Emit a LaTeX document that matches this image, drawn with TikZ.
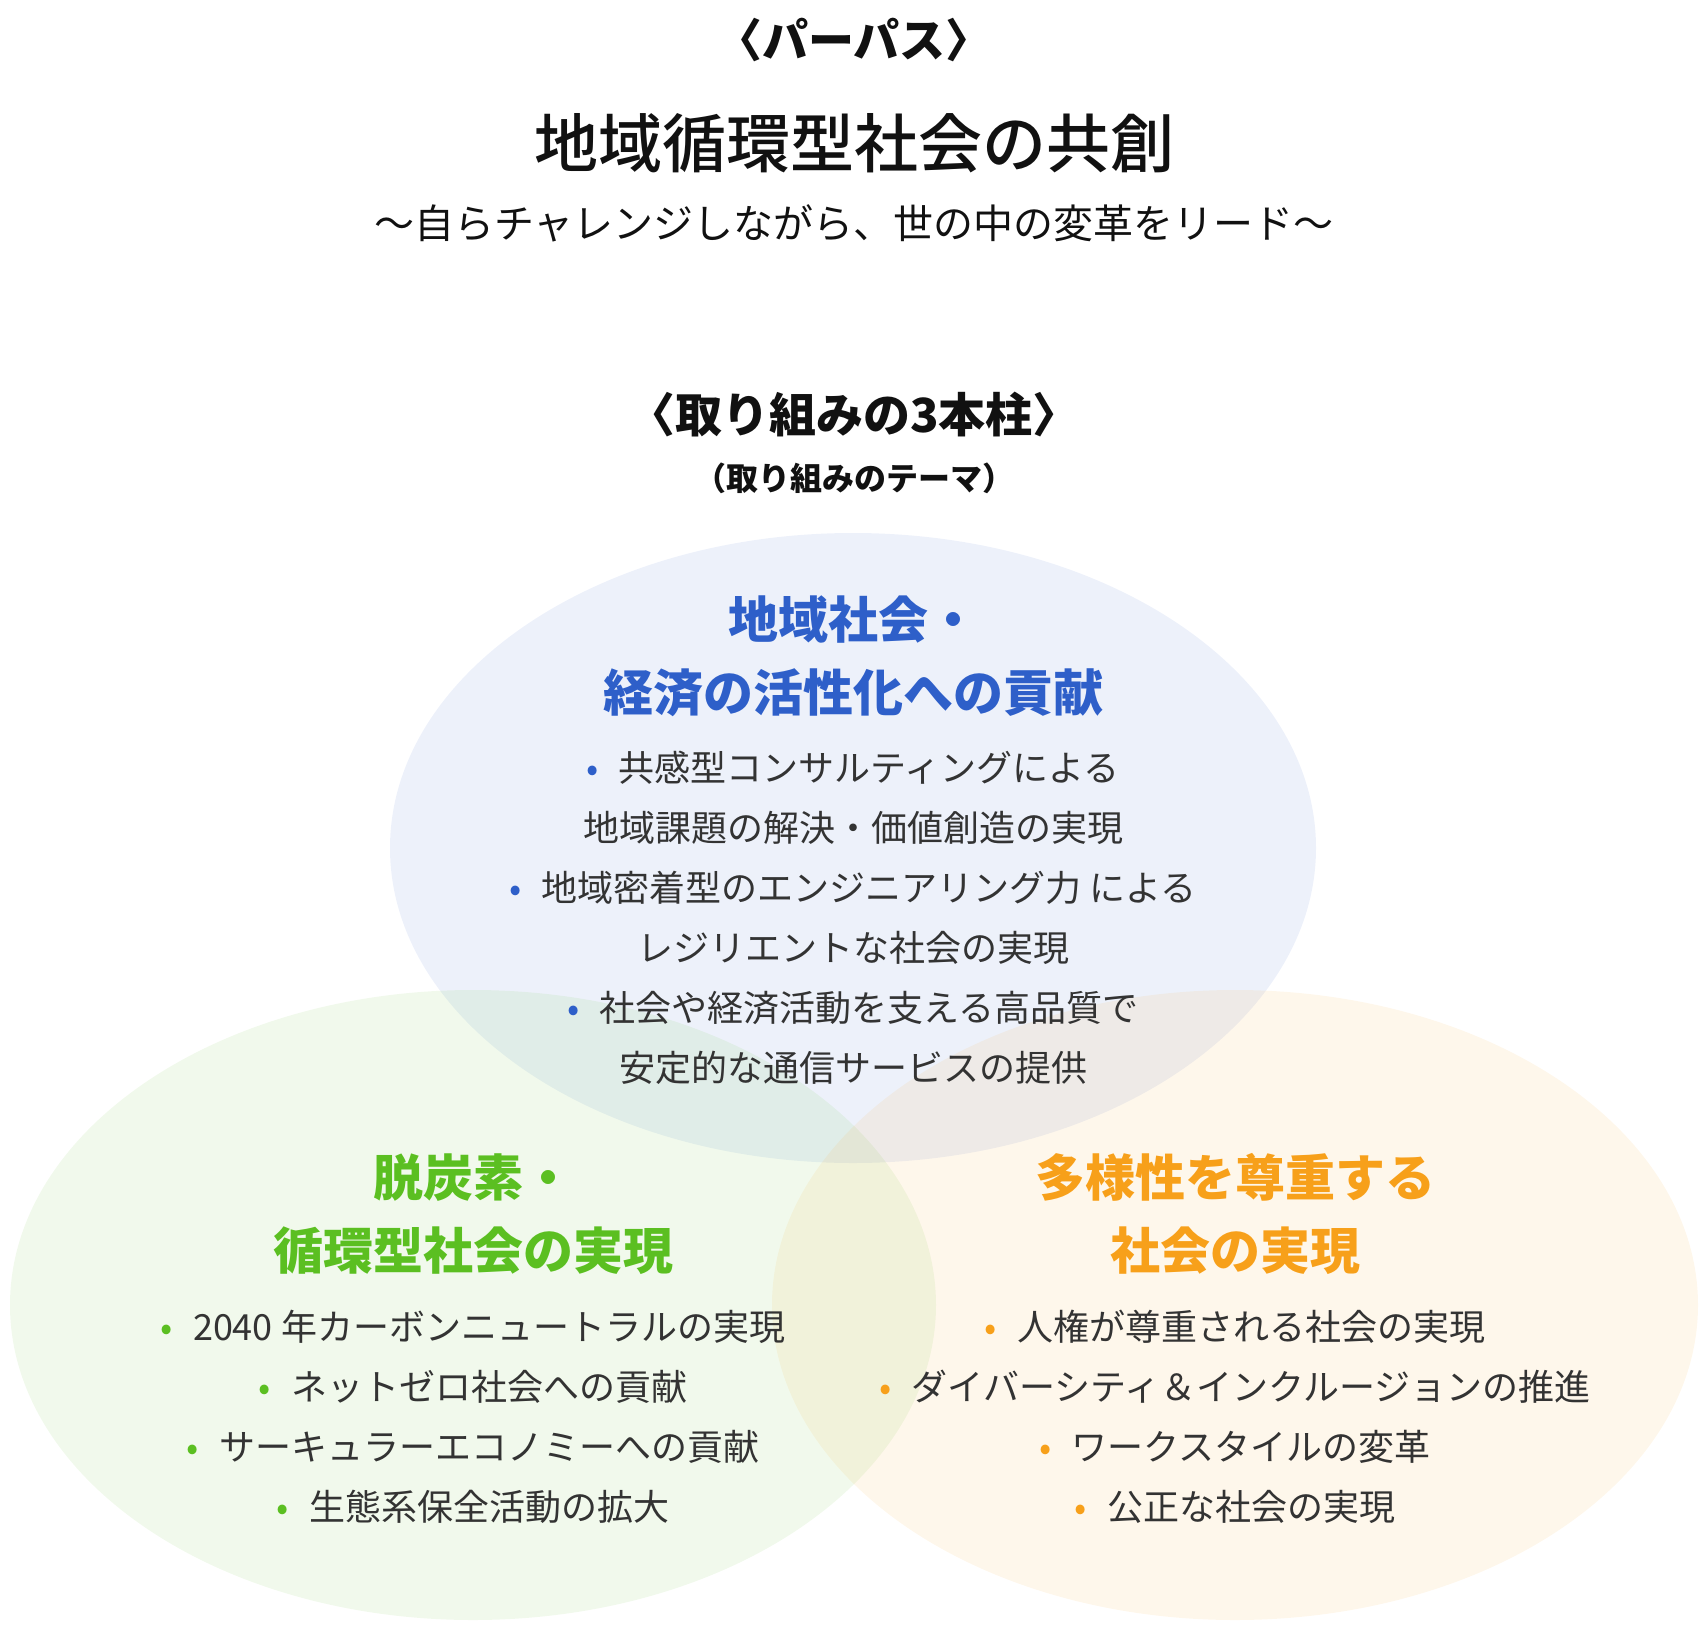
\documentclass[tikz,border=0pt]{standalone}
\usepackage{fontspec}
\setmainfont{Noto Sans CJK JP}
\newfontfamily\medfont{Noto Sans CJK JP Medium}
\definecolor{pillarblue}{HTML}{2E5FC9}
\definecolor{pillargreen}{HTML}{5BBF21}
\definecolor{pillarorange}{HTML}{F7A01A}
\definecolor{bodygray}{HTML}{333333}
\definecolor{headblack}{HTML}{111111}
\newcommand{\pbullet}[1]{\textcolor{#1}{•}\hspace{0.55em}}
\begin{document}
\begin{tikzpicture}[x=1pt, y=-1pt, line join=round,
  pillar/.style={draw=none, fill opacity=0.085},
  headline/.style={font=\bfseries\fontsize{50}{73}\selectfont, align=center, inner sep=0pt},
  bodytext/.style={text=bodygray, font=\fontsize{36}{60}\selectfont, align=center, inner sep=0pt},
  toptext/.style={text=headblack, inner sep=0pt}]
\useasboundingbox (0,0) rectangle (1708,1630);
\fill[pillar, fill=pillarblue] (853,848) ellipse (463 and 315);
\fill[pillar, fill=pillargreen] (473,1305) ellipse (463 and 315);
\fill[pillar, fill=pillarorange] (1235,1305) ellipse (463 and 315);
\node[toptext, font=\bfseries\fontsize{46}{52}\selectfont] (purpose) at (854,40) {〈パーパス〉};
\node[toptext, font=\medfont\fontsize{64}{72}\selectfont] (vision) at (854,143) {地域循環型社会の共創};
\node[toptext, font=\fontsize{40}{46}\selectfont] (slogan) at (854,223) {〜自らチャレンジしながら、世の中の変革をリード〜};
\node[toptext, font=\bfseries\fontsize{47}{52}\selectfont] (pillars) at (854,415) {〈取り組みの3本柱〉};
\node[toptext, font=\bfseries\fontsize{32}{36}\selectfont] (themes) at (854,478) {（取り組みのテーマ）};
\node[headline, text=pillarblue] (localhead) at (853,656) {地域社会・\\経済の活性化への貢献};
\node[bodytext] (localbody) at (853,918) {\pbullet{pillarblue}共感型コンサルティングによる\\地域課題の解決・価値創造の実現\\\pbullet{pillarblue}地域密着型のエンジニアリング力 による\\レジリエントな社会の実現\\\pbullet{pillarblue}社会や経済活動を支える高品質で\\安定的な通信サービスの提供};
\node[headline, text=pillargreen] (greenhead) at (473,1214) {脱炭素・\\循環型社会の実現};
\node[bodytext] (greenbody) at (473,1417) {\pbullet{pillargreen}2040 年カーボンニュートラルの実現\\\pbullet{pillargreen}ネットゼロ社会への貢献\\\pbullet{pillargreen}サーキュラーエコノミーへの貢献\\\pbullet{pillargreen}生態系保全活動の拡大};
\node[headline, text=pillarorange] (diversehead) at (1235,1214) {多様性を尊重する\\社会の実現};
\node[bodytext] (diversebody) at (1235,1417) {\pbullet{pillarorange}人権が尊重される社会の実現\\\pbullet{pillarorange}ダイバーシティ＆インクルージョンの推進\\\pbullet{pillarorange}ワークスタイルの変革\\\pbullet{pillarorange}公正な社会の実現};
\end{tikzpicture}
\end{document}
